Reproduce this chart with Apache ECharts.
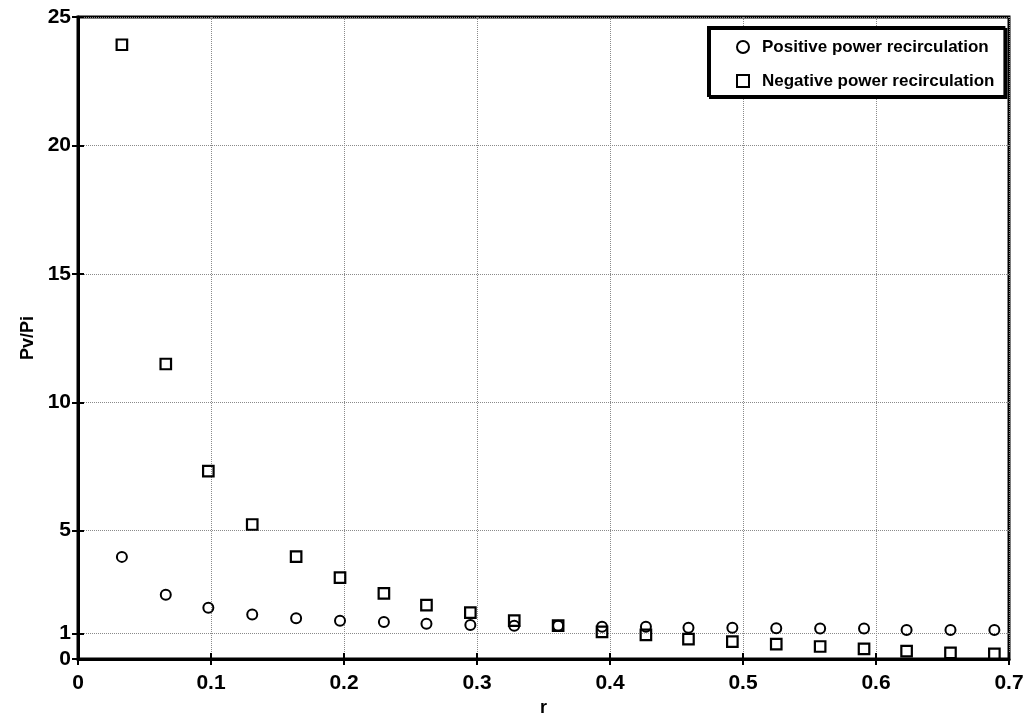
<!DOCTYPE html>
<html>
<head>
<meta charset="utf-8">
<script src="https://cdn.jsdelivr.net/npm/echarts@6/dist/echarts.min.js"></script>
<style>
  html, body { margin: 0; padding: 0; background: #fff; }
  #chart { width: 1036px; height: 722px; }
</style>
</head>
<body>
<div id="chart"></div>
<script>
// Ratio r at which both recirculation modes were evaluated
const rValues = [0.033, 0.066, 0.098, 0.131, 0.164, 0.197, 0.230, 0.262, 0.295, 0.328,
                 0.361, 0.394, 0.427, 0.459, 0.492, 0.525, 0.558, 0.591, 0.623, 0.656, 0.689];
// Pv/Pi for positive power recirculation
const positivePv = [3.98, 2.51, 2.00, 1.74, 1.59, 1.49, 1.44, 1.38, 1.33, 1.30,
                    1.30, 1.26, 1.26, 1.22, 1.22, 1.20, 1.19, 1.19, 1.13, 1.13, 1.13];
// Pv/Pi for negative power recirculation
const negativePv = [23.92, 11.49, 7.32, 5.24, 3.99, 3.17, 2.56, 2.10, 1.81, 1.50,
                    1.30, 1.06, 0.94, 0.78, 0.68, 0.58, 0.49, 0.40, 0.31, 0.24, 0.20];
// Tick values on the Pv/Pi axis
const yTicks = [0, 1, 5, 10, 15, 20, 25];
const seriesNames = ['Positive power recirculation', 'Negative power recirculation'];

const FONT = 'Arial, "Liberation Sans", sans-serif';

const pairs = (ys) => rValues.map((x, i) => [x, ys[i]]);

const chart = echarts.init(document.getElementById('chart'), null, { renderer: 'canvas' });

const gridLine = { show: true, lineStyle: { color: '#8a8a8a', width: 1, type: [1, 1] } };
const innerTick = { show: true, inside: true, length: 6, lineStyle: { color: '#000', width: 2 } };

chart.setOption({
  backgroundColor: '#ffffff',
  animation: false,
  grid: {
    left: 78, right: 27, top: 17, bottom: 55,
    show: true, borderColor: '#000', borderWidth: 3, backgroundColor: 'transparent'
  },
  legend: {
    orient: 'vertical',
    left: 708, top: 27,
    padding: [10, 10, 5, 28],
    itemGap: 14,
    itemWidth: 12, itemHeight: 12,
    backgroundColor: '#fff',
    borderColor: '#000', borderWidth: 2,
    shadowColor: '#000', shadowBlur: 0, shadowOffsetX: 2, shadowOffsetY: 2,
    textStyle: { fontFamily: FONT, fontWeight: 'bold', fontSize: 17, color: '#000', lineHeight: 20, padding: [0, 0, 0, 8] },
    data: seriesNames
  },
  xAxis: [{
    type: 'value', min: 0, max: 0.7, interval: 0.1,
    name: 'r', nameLocation: 'middle', nameGap: 37,
    nameTextStyle: { fontFamily: FONT, fontWeight: 'bold', fontSize: 18, color: '#000' },
    axisLine: { show: true, onZero: false, lineStyle: { color: '#000', width: 3 } },
    axisTick: innerTick,
    axisLabel: { fontFamily: FONT, fontWeight: 'bold', fontSize: 21, color: '#000', margin: 14 },
    splitLine: gridLine
  }, {
    type: 'value', min: 0, max: 0.7, interval: 0.1, position: 'top',
    axisLine: { show: false },
    axisTick: innerTick,
    axisLabel: { show: false },
    splitLine: { show: false }
  }],
  yAxis: [{
    type: 'value', min: 0, max: 25,
    name: 'Pv/Pi', nameLocation: 'middle', nameGap: 40, nameRotate: 90,
    nameTextStyle: { fontFamily: FONT, fontWeight: 'bold', fontSize: 18, color: '#000' },
    axisLine: { show: true, onZero: false, lineStyle: { color: '#000', width: 3 } },
    axisTick: Object.assign({ customValues: yTicks }, innerTick),
    axisLabel: { fontFamily: FONT, fontWeight: 'bold', fontSize: 21, color: '#000', margin: 7, customValues: yTicks },
    splitLine: gridLine
  }, {
    type: 'value', min: 0, max: 25, position: 'right',
    axisLine: { show: false },
    axisTick: Object.assign({ customValues: yTicks }, innerTick),
    axisLabel: { show: false, customValues: yTicks },
    splitLine: { show: false }
  }],
  series: [{
    name: seriesNames[0],
    type: 'scatter',
    xAxisIndex: 0, yAxisIndex: 0,
    symbol: 'circle', symbolSize: 10,
    itemStyle: { color: 'rgba(255,255,255,0)', borderColor: '#000', borderWidth: 2, opacity: 1 },
    data: pairs(positivePv)
  }, {
    name: seriesNames[1],
    type: 'scatter',
    xAxisIndex: 0, yAxisIndex: 0,
    symbol: 'rect', symbolSize: 10.5,
    itemStyle: { color: 'rgba(255,255,255,0)', borderColor: '#000', borderWidth: 2.2, opacity: 1 },
    data: pairs(negativePv)
  }]
});
</script>
</body>
</html>
